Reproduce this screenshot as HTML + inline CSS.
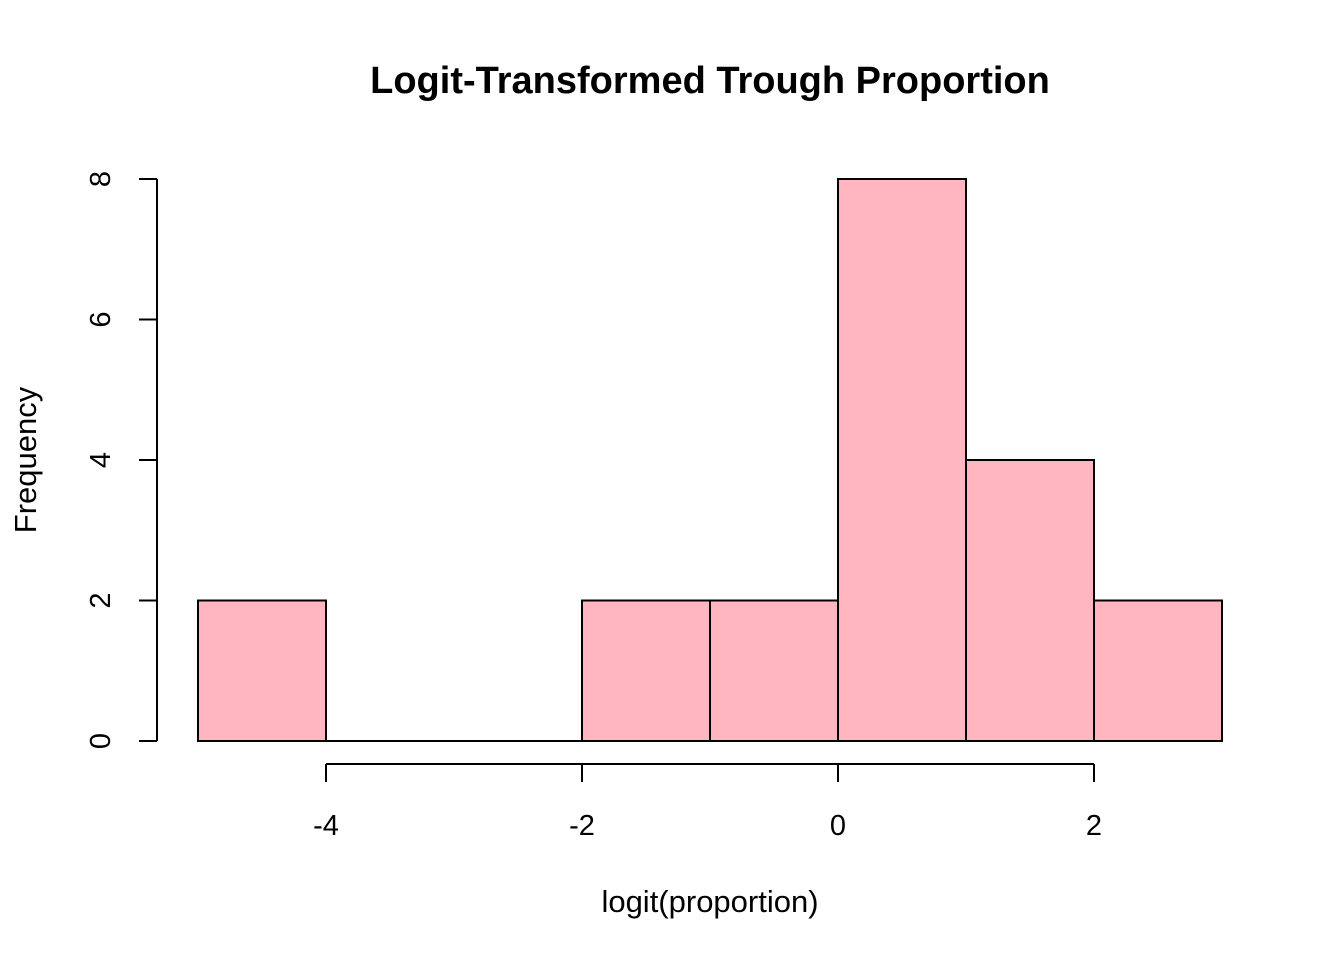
<!DOCTYPE html>
<html><head><meta charset="utf-8"><style>
body{margin:0;background:#fff}
svg{display:block;font-family:"Liberation Sans",Arial,sans-serif}
</style></head><body>
<svg width="1344" height="960">
<text x="710" y="93" text-anchor="middle" font-size="38" font-weight="bold">Logit-Transformed Trough Proportion</text>
<g id="bars"></g>
<g id="axes"></g>
<text x="710" y="912" text-anchor="middle" font-size="31">logit(proportion)</text>
<text transform="translate(36,460) rotate(-90)" text-anchor="middle" font-size="31">Frequency</text>
</svg>
<script>
const breaks=[-5,-4,-3,-2,-1,0,1,2,3];
const counts=[2,0,0,2,2,8,4,2];
const xTicks=[-4,-2,0,2];
const yTicks=[0,2,4,6,8];
const X=v=>838+v*128, Y=v=>741-v*70.25;
const NS="http://www.w3.org/2000/svg";
function mk(t,a,p){const e=document.createElementNS(NS,t);for(const k in a)e.setAttribute(k,a[k]);p.appendChild(e);return e;}
const bars=document.getElementById('bars'), axes=document.getElementById('axes');
counts.forEach((c,i)=>{
 if(c===0){
  const l=mk('line',{x1:X(breaks[i]),x2:X(breaks[i+1]),y1:Y(0),y2:Y(0),stroke:'#000','stroke-width':2},bars);
  
  
  return;
 }
 const r=mk('rect',{x:X(breaks[i]),y:Y(c),width:X(breaks[i+1])-X(breaks[i]),height:Y(0)-Y(c),fill:'#ffb6c1',stroke:'#000','stroke-width':2},bars);
 
 
});
const xl=mk('line',{x1:X(xTicks[0]),x2:X(xTicks[xTicks.length-1]),y1:764,y2:764,stroke:'#000','stroke-width':2},axes);


xTicks.forEach(v=>{
 mk('line',{x1:X(v),x2:X(v),y1:764,y2:782,stroke:'#000','stroke-width':2},axes);
 const t=mk('text',{x:X(v),y:835,'text-anchor':'middle','font-size':29},axes);t.textContent=v;
 
 
});
const yl=mk('line',{x1:157,x2:157,y1:Y(yTicks[0]),y2:Y(yTicks[yTicks.length-1]),stroke:'#000','stroke-width':2},axes);


yTicks.forEach(v=>{
 mk('line',{x1:139,x2:157,y1:Y(v),y2:Y(v),stroke:'#000','stroke-width':2},axes);
 const t=mk('text',{transform:`translate(110,${Y(v)}) rotate(-90)`,'text-anchor':'middle','font-size':29},axes);t.textContent=v;
 
 
});
</script>
</body></html>
